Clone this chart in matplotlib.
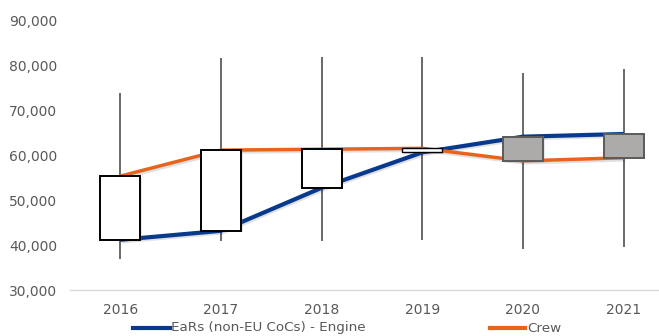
import matplotlib
matplotlib.use("Agg")
import matplotlib.pyplot as plt
import matplotlib.patheffects as pe
from matplotlib.lines import Line2D

years = ["2016", "2017", "2018", "2019", "2020", "2021"]
engine = [41200, 43200, 52800, 60700, 64200, 64800]
crew = [55400, 61200, 61400, 61600, 58800, 59500]
high = [73900, 81700, 81900, 82000, 78400, 79300]
low = [36900, 40900, 40900, 41100, 39100, 39600]

blue = "#073A8D"
orange = "#E8641E"
grey_txt = "#595959"

fig = plt.figure(figsize=(6.59, 3.36), dpi=100)
ax = fig.add_axes([70 / 659, 46 / 336, 604 / 659, 269 / 336])
x = list(range(len(years)))

shadow = [pe.SimplePatchShadow(offset=(1.2, -1.2), alpha=0.18, shadow_rgbFace="#888888"), pe.Normal()]
lshadow = [pe.SimpleLineShadow(offset=(1, -1.2), alpha=0.12, linewidth=3), pe.Normal()]

# high-low lines
ax.vlines(x, low, high, color="#404040", lw=1.1, zorder=1)

ax.plot(x, engine, color=blue, lw=3, solid_capstyle="butt", zorder=2, path_effects=lshadow)
ax.plot(x, crew, color=orange, lw=2.5, solid_capstyle="butt", zorder=2, path_effects=lshadow)

# up/down bars
w = 0.4
for i in x:
    lo = min(engine[i], crew[i])
    hi = max(engine[i], crew[i])
    if crew[i] >= engine[i]:
        fc, ec = "white", "black"
    else:
        fc, ec = "#ADAAAA", "#5A5A5A"
    lw = 1.4 if hi - lo > 2000 else 1.0
    ax.add_patch(plt.Rectangle((i - w / 2, lo), w, hi - lo, facecolor=fc, edgecolor=ec,
                               lw=lw, zorder=3, path_effects=shadow))

ax.set_xlim(-0.5, 5.5)
ax.set_ylim(30000, 90000)
ax.set_yticks(range(30000, 90001, 10000))
ax.set_yticklabels([f"{v:,}" for v in range(30000, 90001, 10000)])
ax.set_xticks(x)
ax.set_xticklabels(years)
for s in ["top", "right", "left"]:
    ax.spines[s].set_visible(False)
ax.spines["bottom"].set_color("#D9D9D9")
ax.spines["bottom"].set_linewidth(1)
ax.tick_params(axis="both", length=0, labelsize=10, colors=grey_txt)
ax.tick_params(axis="y", pad=9)
ax.tick_params(axis="x", pad=9)

# legend
fig.add_artist(Line2D([133 / 659, 170 / 659], [1 - 328 / 336] * 2, color=blue, lw=3))
fig.text(171 / 659, 1 - 328 / 336, "EaRs (non-EU CoCs) - Engine", fontsize=9.7, color=grey_txt, va="center")
fig.add_artist(Line2D([490 / 659, 525 / 659], [1 - 328 / 336] * 2, color=orange, lw=3))
fig.text(527 / 659, 1 - 328 / 336, "Crew", fontsize=9.7, color=grey_txt, va="center")

fig.savefig("out.png", dpi=100)
